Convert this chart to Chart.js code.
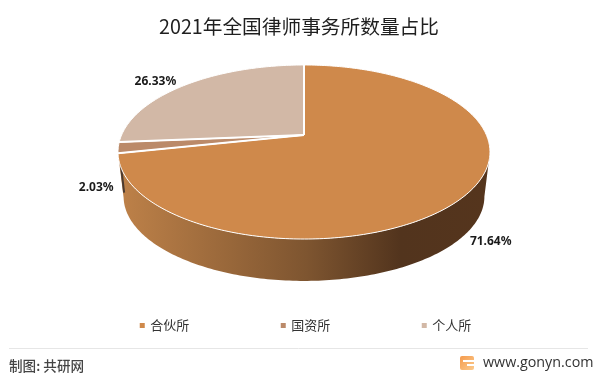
<!DOCTYPE html>
<html>
<head>
<meta charset="utf-8">
<title>2021年全国律师事务所数量占比</title>
<script src="https://cdn.jsdelivr.net/npm/chart.js@4"></script>
<style>
  html, body { margin: 0; padding: 0; background: #fff; }
  canvas { display: block; }
</style>
</head>
<body>
<canvas id="chart" width="598" height="375"></canvas>
<script>
const categories = ['合伙所', '国资所', '个人所'];
const shares = [71.64, 2.03, 26.33];
const sliceColors = ['#CF894B', '#BB8A69', '#D2B8A6'];

const chartTitle = '2021年全国律师事务所数量占比';
const sourceText = '制图: 共研网';
const siteText = 'www.gonyn.com';

// 透视参数：Excel 的三维饼图近大远小，圆心不在椭圆中心
const PIE = { x: 304, y: 135, rx: 182.4, ry: 83.7, k: 0.1954 };
const WALL = { scale: 0.97, drop: 45 };
// 百分比标签相对于扇区外缘中点的偏移
const LABEL_OFFSET = [[25, 47], [-22, 40], [-30, -3]];
const FONT_CJK = '"Noto Sans CJK SC", "Noto Sans", sans-serif';

function project(angle, scale, drop) {
  const d = 1 - PIE.k * Math.sin(angle);
  return {
    x: PIE.x + scale * PIE.rx * Math.cos(angle) / d,
    y: PIE.y + drop + scale * PIE.ry * Math.sin(angle) / d
  };
}

function traceArc(ctx, start, end, scale, drop) {
  const steps = Math.max(2, Math.ceil(Math.abs(end - start) * 60));
  for (let i = 0; i <= steps; i++) {
    const p = project(start + (end - start) * i / steps, scale, drop);
    ctx.lineTo(p.x, p.y);
  }
}

// 侧壁只画朝向观察者的那一段
function drawWall(ctx, arc) {
  const silhouette = Math.asin(PIE.k);
  const start = Math.max(arc.startAngle, silhouette);
  const end = Math.min(arc.endAngle, Math.PI - silhouette);
  if (end <= start) return;
  const grad = ctx.createLinearGradient(125, 0, 488, 0);
  grad.addColorStop(0, '#BC8048');
  grad.addColorStop(0.5, '#7E5530');
  grad.addColorStop(0.76, '#52341D');
  grad.addColorStop(1, '#55351D');
  ctx.beginPath();
  traceArc(ctx, start, end, 1, 0);
  traceArc(ctx, end, start, WALL.scale, WALL.drop);
  ctx.closePath();
  ctx.fillStyle = grad;
  ctx.fill();
}

const pie3d = {
  id: 'pie3d',
  beforeDatasetsDraw(chart) {
    const ctx = chart.ctx;
    const arcs = chart.getDatasetMeta(0).data;
    ctx.save();
    ctx.lineJoin = 'round';

    drawWall(ctx, arcs[0]);

    // 国资所的切面，只露出一条细边
    const a = project(arcs[0].endAngle, 1, 0);
    const b = project(arcs[0].endAngle, WALL.scale, WALL.drop - 5);
    ctx.beginPath();
    ctx.moveTo(a.x + 1.5, a.y);
    ctx.lineTo(b.x + 0.5, b.y);
    ctx.strokeStyle = '#4A3A30';
    ctx.lineWidth = 2;
    ctx.stroke();

    arcs.forEach((arc, i) => {
      ctx.beginPath();
      ctx.moveTo(PIE.x, PIE.y);
      traceArc(ctx, arc.startAngle, arc.endAngle, 1, 0);
      ctx.closePath();
      ctx.fillStyle = sliceColors[i];
      ctx.fill();
      ctx.strokeStyle = '#fff';
      ctx.lineWidth = 1;
      ctx.stroke();
    });

    // 扇区之间的白缝比外缘粗
    arcs.forEach(arc => {
      const p = project(arc.startAngle, 1, 0);
      ctx.beginPath();
      ctx.moveTo(PIE.x, PIE.y);
      ctx.lineTo(p.x, p.y);
      ctx.strokeStyle = '#fff';
      ctx.lineWidth = 2;
      ctx.stroke();
    });

    ctx.font = 'bold 12px "Noto Sans", sans-serif';
    ctx.fillStyle = '#1a1a1a';
    ctx.textAlign = 'center';
    ctx.textBaseline = 'middle';
    arcs.forEach((arc, i) => {
      const p = project((arc.startAngle + arc.endAngle) / 2, 1, 0);
      ctx.fillText(shares[i].toFixed(2) + '%', p.x + LABEL_OFFSET[i][0], p.y + LABEL_OFFSET[i][1]);
    });
    ctx.restore();
    return false;
  }
};

const footer = {
  id: 'footer',
  afterLayout(chart) {
    // 图例的大间距会把它顶出画布，这里放回原来的位置
    const legend = chart.legend;
    legend.top = 326 - 7 - legend.options.labels.padding;
    legend.left += 7;
    legend.right += 7;
  },
  afterDraw(chart) {
    const ctx = chart.ctx;
    ctx.save();
    ctx.strokeStyle = '#E6E6E6';
    ctx.lineWidth = 1;
    ctx.beginPath();
    ctx.moveTo(9, 348.5);
    ctx.lineTo(588, 348.5);
    ctx.stroke();

    ctx.textBaseline = 'middle';
    ctx.fillStyle = '#444';
    ctx.font = '500 13.6px ' + FONT_CJK;
    ctx.fillText(sourceText, 9, 366);
    ctx.fillStyle = '#333';
    ctx.font = '14.3px "Open Sans", sans-serif';
    ctx.fillText(siteText, 483, 363);

    const grad = ctx.createLinearGradient(460, 356, 474, 370);
    grad.addColorStop(0, '#F59A4C');
    grad.addColorStop(1, '#FBCB8E');
    ctx.fillStyle = grad;
    ctx.beginPath();
    ctx.roundRect(460, 356, 14, 14, 2);
    ctx.fill();
    ctx.fillStyle = '#fff';
    ctx.fillRect(463, 360, 11, 2);
    ctx.fillRect(467, 364, 7, 2);
    ctx.restore();
  }
};

new Chart(document.getElementById('chart'), {
  type: 'pie',
  data: {
    labels: categories,
    datasets: [{ data: shares, backgroundColor: sliceColors, borderWidth: 0, clip: false }]
  },
  options: {
    responsive: false,
    animation: false,
    events: [],
    plugins: {
      tooltip: { enabled: false },
      title: {
        display: true,
        text: chartTitle,
        color: '#1f1f1f',
        font: { size: 19.7, weight: '400', family: FONT_CJK },
        padding: { top: 15, bottom: 6 }
      },
      legend: {
        position: 'bottom',
        labels: {
          usePointStyle: true,
          pointStyle: 'rect',
          boxWidth: 3,
          boxHeight: 5,
          padding: 92.5,
          color: '#333',
          font: { size: 13, family: FONT_CJK }
        }
      }
    }
  },
  plugins: [pie3d, footer]
});
</script>
</body>
</html>
